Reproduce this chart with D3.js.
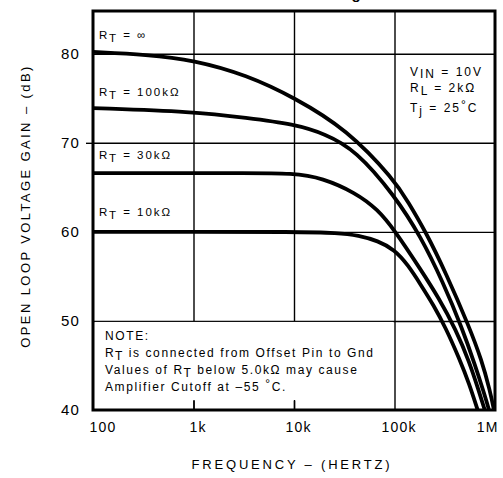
<!DOCTYPE html>
<html><head><meta charset="utf-8">
<script src="https://cdn.jsdelivr.net/npm/d3@7"></script>
<style>
body{margin:0;background:#fff}
svg{display:block}
text{font-family:"Liberation Sans",Arial,Helvetica,sans-serif;fill:#000}
</style>
</head><body>
<svg id="c" width="503" height="478"></svg>
<script>
// ---- data ----
const xTicks = [100, 1000, 10000, 100000, 1000000];
const xTickLabels = ["100", "1k", "10k", "100k", "1M"];
const yTicks = [40, 50, 60, 70, 80];
const yTickLabels = ["40", "50", "60", "70", "80"];

const freqInf = [100, 344, 1000, 3400, 10000, 33700, 100000, 136000, 207000, 324000, 556000, 736000, 890000, 977000, 1060000];
const gainInf = [80.2, 79.9, 79.3, 77.6, 75.1, 71.5, 65.8, 63.4, 59.9, 55.4, 49.3, 45.6, 42.2, 40.0, 38.0];

const freq100k = [100, 1000, 3400, 10000, 20500, 40900, 100000, 184000, 302000, 471000, 640000, 773000, 890000, 1000000];
const gain100k = [73.9, 73.5, 72.8, 72.1, 71.0, 69.2, 64.1, 59.4, 54.4, 49.2, 44.9, 42.0, 39.7, 37.5];

const freq30k = [100, 1000, 3000, 10000, 19100, 40900, 68400, 100000, 184000, 275000, 409000, 556000, 687000, 791000, 900000];
const gain30k = [66.6, 66.6, 66.6, 66.6, 66.05, 64.4, 62.5, 60.2, 55.7, 52.6, 49.0, 45.4, 42.2, 40.0, 38.0];

const freq10k = [100, 1000, 10000, 28000, 43700, 68400, 100000, 136000, 184000, 244000, 324000, 440000, 556000, 671000, 770000];
const gain10k = [60.0, 60.0, 60.0, 59.9, 59.6, 59.0, 58.0, 56.3, 54.0, 51.8, 49.2, 45.8, 42.9, 40.0, 38.0];

const seriesFreqs = [freqInf, freq100k, freq30k, freq10k];
const seriesGains = [gainInf, gain100k, gain30k, gain10k];
const curveLabels = ["∞", "100kΩ", "30kΩ", "10kΩ"];

// ---- scales ----
const svg = d3.select("#c");
const L = 93, R = 495, T = 11, B = 410;
const x = d3.scaleLog().domain([100, 1e6]).range([L, R]);
const y = d3.scaleLinear().domain([40, 84.8]).range([B, T]);

// cut-off title at very top (only a descender is visible)
const ttl = svg.append("text").attr("y", -1).attr("font-size", 15).attr("font-weight", "bold")
  .attr("x", 0).text("Voltage Gain");
{
  const node = ttl.node();
  const gi = ttl.text().indexOf("g");
  const p = node.getStartPositionOfChar(gi).x;
  const e = node.getEndPositionOfChar(gi).x;
  ttl.attr("x", 356 - (p + e) / 2);
}

const gridStyle = g => g.selectAll("line").attr("stroke", "#000").attr("stroke-width", 1.4);
// gridlines
svg.append("g").attr("transform", `translate(0,${B})`)
  .call(d3.axisBottom(x).tickValues(xTicks.slice(1, 4)).tickSize(-(B - T)).tickFormat(""))
  .call(g => g.select(".domain").remove()).call(gridStyle);
svg.append("g").attr("transform", `translate(${L},0)`)
  .call(d3.axisLeft(y).tickValues(yTicks.slice(1)).tickSize(-(R - L)).tickFormat(""))
  .call(g => g.select(".domain").remove()).call(gridStyle);
// outward tick at 70
svg.append("g").attr("transform", `translate(${L},0)`)
  .call(d3.axisLeft(y).tickValues([70]).tickSize(7).tickFormat(""))
  .call(g => g.select(".domain").remove()).call(gridStyle);

// note box (white, hides grid)
svg.append("rect").attr("x", L + 1.5).attr("y", y(50) + 1)
  .attr("width", x(100000) - L - 2.5).attr("height", B - y(50) - 10).attr("fill", "#fff");
// short inner ticks at bottom
svg.append("g").attr("transform", `translate(0,${B})`)
  .call(d3.axisBottom(x).tickValues([1000, 10000]).tickSize(-10).tickFormat(""))
  .call(g => g.select(".domain").remove()).call(gridStyle);

// curves
svg.append("clipPath").attr("id", "clip").append("rect")
  .attr("x", L).attr("y", T).attr("width", R - L).attr("height", B - T);
const line = d3.line().x(d => x(d[0])).y(d => y(d[1])).curve(d3.curveBasis);
seriesFreqs.forEach((fs, i) => {
  const pts = fs.map((f, j) => [f, seriesGains[i][j]]);
  svg.append("path").attr("d", line(pts)).attr("fill", "none")
    .attr("stroke", "#000").attr("stroke-width", 3.8).attr("stroke-linecap", "butt")
    .attr("clip-path", "url(#clip)");
});

// frame
svg.append("rect").attr("x", L).attr("y", T).attr("width", R - L).attr("height", B - T)
  .attr("fill", "none").attr("stroke", "#000").attr("stroke-width", 3);

// axis labels
svg.append("g").attr("transform", `translate(${L},0)`)
  .call(d3.axisLeft(y).tickValues(yTicks).tickSize(0).tickPadding(13).tickFormat((d, i) => yTickLabels[i]))
  .call(g => g.select(".domain").remove())
  .call(g => g.selectAll("text").attr("font-size", 15).attr("letter-spacing", 1.2)
    .attr("font-family", "Liberation Sans, Arial, sans-serif").attr("fill", "#000"));

svg.append("g").attr("transform", `translate(0,${B})`)
  .call(d3.axisBottom(x).tickValues(xTicks).tickSize(0).tickPadding(12).tickFormat((d, i) => xTickLabels[i]))
  .call(g => g.select(".domain").remove())
  .call(g => g.selectAll("text").attr("font-size", 14).attr("letter-spacing", 1.2)
    .attr("font-family", "Liberation Sans, Arial, sans-serif").attr("fill", "#000")
    .attr("text-anchor", (d, i) => i === 0 ? "start" : (i === xTicks.length - 1 ? "end" : "middle"))
    .attr("dx", (d, i) => i === 0 ? -4 : (i === xTicks.length - 1 ? 3 : 4)));

svg.append("text").attr("x", 292).attr("y", 469).attr("text-anchor", "middle")
  .attr("font-size", 13).attr("letter-spacing", 2.8).text("FREQUENCY – (HERTZ)");
svg.append("text").attr("transform", "translate(30,206) rotate(-90)").attr("text-anchor", "middle")
  .attr("font-size", 13).attr("letter-spacing", 2.4).text("OPEN LOOP VOLTAGE GAIN – (dB)");

// inline labels with subscripts
function richText(x0, y0, parts, size, ls) {
  const t = svg.append("text").attr("x", x0).attr("y", y0).attr("font-size", size).attr("letter-spacing", ls);
  let cur = 0;
  parts.forEach(([s, sub]) => {
    const dy = (sub || 0) - cur;
    cur = sub || 0;
    t.append("tspan").attr("dy", dy).text(s);
  });
  return t;
}
const curveLabelY = [39, 96, 159, 216];
curveLabels.forEach((lab, i) => {
  richText(99, curveLabelY[i], [["R", 0], ["T", 2.5], [" = " + lab, 0]], 11.5, 2);
});

richText(410, 76, [["V", 0], ["IN", 2], [" = 10V", 0]], 12, 2);
richText(410, 92, [["R", 0], ["L", 3], [" = 2kΩ", 0]], 12, 2);
richText(410, 112, [["T", 0], ["j", 3], [" = 25", 0], ["°", -3], ["C", 0]], 12, 2);

const noteLines = [
  [["NOTE:", 0]],
  [["R", 0], ["T", 2.5], [" is connected from Offset Pin to Gnd", 0]],
  [["Values of R", 0], ["T", 2.5], [" below 5.0kΩ may cause", 0]],
  [["Amplifier Cutoff at –55 ", 0], ["°", -3], ["C.", 0]]
];
const noteY = [340, 357, 374, 391];
noteLines.forEach((p, i) => richText(105, noteY[i], p, 12, 1.6));
</script>
</body></html>
